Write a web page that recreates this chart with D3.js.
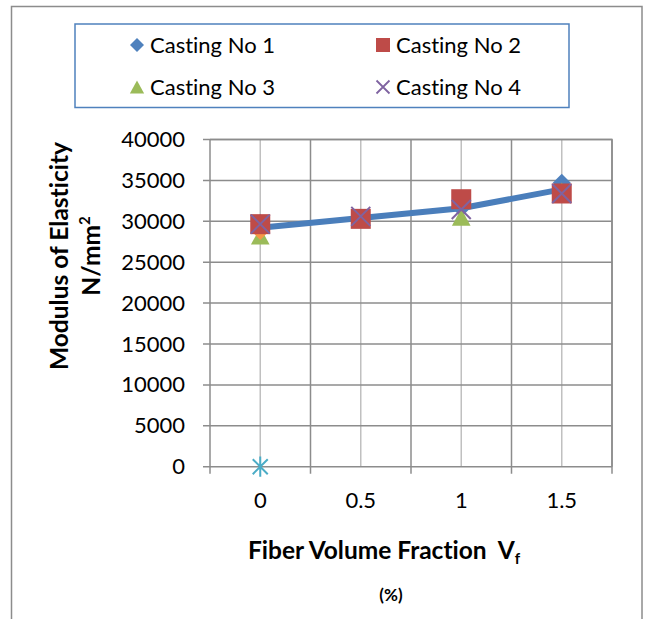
<!DOCTYPE html>
<html><head><meta charset="utf-8">
<script src="https://cdn.jsdelivr.net/npm/d3@7/dist/d3.min.js"></script>
<style>
html,body{margin:0;padding:0;background:#fff;}
text{font-family:Lato,"Open Sans",sans-serif;white-space:pre;font-variant-ligatures:none;}
</style></head>
<body>
<svg id="chart" width="646" height="619"></svg>
<script>
const categories = ["0", "0.5", "1", "1.5"];
const yTicks = [0, 5000, 10000, 15000, 20000, 25000, 30000, 35000, 40000];
const casting1 = [29800, 30300, 31600, 34700];
const casting2 = [29650, 30300, 32700, 33400];
const casting3 = [28200, 30300, 30500, 33700];
const casting4 = [29650, 30600, 31450, 33400];
const averageLine = [29200, 30400, 31600, 33900];
const hiddenSeries = [28700, 30300, null, null];
const zeroSeries = [0, null, null, null];
const legendNames = ["Casting No 1", "Casting No 2", "Casting No 3", "Casting No 4"];

const svg = d3.select("#chart");
const L = 210, R = 612, T = 139.5, B = 466.7;
const x = d3.scaleBand().domain(categories).range([L, R]);
const y = d3.scaleLinear().domain([0, 40000]).range([B, T]);
const cx = c => x(c) + x.bandwidth() / 2;

// outer chart border
svg.append("rect").attr("x", 11.5).attr("y", 6.5).attr("width", 630.5).attr("height", 630)
  .attr("fill", "#fff").attr("stroke", "#8c8c8c").attr("stroke-width", 1.5);

// vertical center lines (light)
svg.append("g").selectAll("line").data(categories).join("line")
  .attr("x1", d => cx(d)).attr("x2", d => cx(d)).attr("y1", T).attr("y2", B)
  .attr("stroke", "#c0c0c0").attr("stroke-width", 1.5);
// vertical band edges (dark)
const edges = categories.map(c => x(c)).concat([x(categories[categories.length - 1]) + x.bandwidth()]);
svg.append("g").selectAll("line").data(edges).join("line")
  .attr("x1", d => d).attr("x2", d => d).attr("y1", T).attr("y2", B + 7)
  .attr("stroke", "#8c8c8c").attr("stroke-width", 1.5);
// horizontal gridlines
svg.append("g").selectAll("line").data(yTicks).join("line")
  .attr("x1", L - 7).attr("x2", R).attr("y1", d => y(d)).attr("y2", d => y(d))
  .attr("stroke", "#8c8c8c").attr("stroke-width", 1.5);

// y axis labels
const yAxis = svg.append("g").attr("transform", `translate(${L},0)`)
  .call(d3.axisLeft(y).tickValues(yTicks).tickSize(0).tickPadding(25).tickFormat(d3.format("d")));
yAxis.select(".domain").remove();
yAxis.selectAll("text").attr("font-size", 22).attr("fill", "#000").attr("font-family", "Lato");

// x axis labels
const xAxis = svg.append("g").attr("transform", `translate(0,${B})`)
  .call(d3.axisBottom(x).tickSize(0).tickPadding(26));
xAxis.select(".domain").remove();
xAxis.selectAll("text").attr("font-size", 22).attr("fill", "#000").attr("font-family", "Lato");

// average line
const lineGen = d3.line().x((d, i) => cx(categories[i])).y(d => y(d));
svg.append("path").attr("d", lineGen(averageLine)).attr("fill", "none")
  .attr("stroke", "#4a7ebb").attr("stroke-width", 6).attr("stroke-linejoin", "round");

function diamondPath(s) { return `M0,${-s}L${s},0L0,${s}L${-s},0Z`; }
function drawSeries(vals, drawFn) {
  const g = svg.append("g");
  vals.forEach((v, i) => {
    if (v === null) return;
    const m = g.append("g").attr("transform", `translate(${cx(categories[i])},${y(v)})`);
    drawFn(m);
  });
}
const diamond = (s, col) => m => m.append("path").attr("d", diamondPath(s)).attr("fill", col);
const square = (s, col) => m => m.append("rect").attr("x", -s).attr("y", -s).attr("width", 2 * s).attr("height", 2 * s).attr("fill", col);
const triangle = (s, col) => m => m.append("path").attr("d", `M0,${-s}L${s * 1.1},${s}L${-s * 1.1},${s}Z`).attr("fill", col);
const cross = (s, col, w) => m => m.append("path").attr("d", `M${-s},${-s}L${s},${s}M${-s},${s}L${s},${-s}`).attr("stroke", col).attr("stroke-width", w).attr("fill", "none");
const star = (s, col, w) => m => m.append("path").attr("d", `M${-s},${-s}L${s},${s}M${-s},${s}L${s},${-s}M0,${-s * 1.35}L0,${s * 1.35}`).attr("stroke", col).attr("stroke-width", w).attr("fill", "none");

drawSeries(casting1, diamond(9, "#4f81bd"));
drawSeries(casting3, triangle(8.5, "#9bbb59"));
drawSeries(hiddenSeries, diamond(8, "#f79646"));
drawSeries(casting2, square(10, "#be4b48"));
drawSeries(casting4, cross(9.5, "#7f63a1", 2));
drawSeries(zeroSeries, star(7.5, "#4bacc6", 2));

// plot border top/right
svg.append("path").attr("d", `M${L},${T}H${R}V${B}`).attr("fill", "none").attr("stroke", "#8c8c8c").attr("stroke-width", 1.5);

// legend
svg.append("rect").attr("x", 75).attr("y", 24).attr("width", 494).attr("height", 83.5)
  .attr("fill", "#fff").attr("stroke", "#4f81bd").attr("stroke-width", 1.5);
const legPos = [[137, 45], [383, 45], [137, 87], [383, 87]];
const legDraw = [diamond(7, "#4f81bd"), square(7, "#be4b48"), triangle(6.5, "#9bbb59"), cross(6.5, "#7f63a1", 1.8)];
legendNames.forEach((n, i) => {
  const m = svg.append("g").attr("transform", `translate(${legPos[i][0]},${legPos[i][1]})`);
  legDraw[i](m);
  svg.append("text").attr("x", legPos[i][0] + 13).attr("y", legPos[i][1] + 7.5)
    .attr("font-size", 22).attr("fill", "#000").text(n);
});

// y axis title
svg.append("text").attr("transform", "translate(68.3,256) rotate(-90)")
  .attr("text-anchor", "middle").attr("font-size", 24.5).attr("font-weight", "bold").attr("fill", "#000")
  .text("Modulus of Elasticity");
const yt2 = svg.append("text").attr("transform", "translate(100,256) rotate(-90)")
  .attr("text-anchor", "middle").attr("font-size", 24.5).attr("font-weight", "bold").attr("fill", "#000");
yt2.append("tspan").text("N/mm");
yt2.append("tspan").attr("font-size", 15).attr("dy", -10).text("2");

// x axis title
const xt = svg.append("text").attr("x", 248).attr("y", 559.3)
  .attr("font-size", 24.5).attr("font-weight", "bold").attr("fill", "#000");
xt.append("tspan").text("Fiber Volume Fraction  V");
xt.append("tspan").attr("font-size", 15).attr("dy", 5).text("f");
svg.append("text").attr("x", 391).attr("y", 601).attr("text-anchor", "middle")
  .attr("font-size", 17).attr("font-weight", "bold").attr("fill", "#000").text("(%)");
</script>
</body></html>
